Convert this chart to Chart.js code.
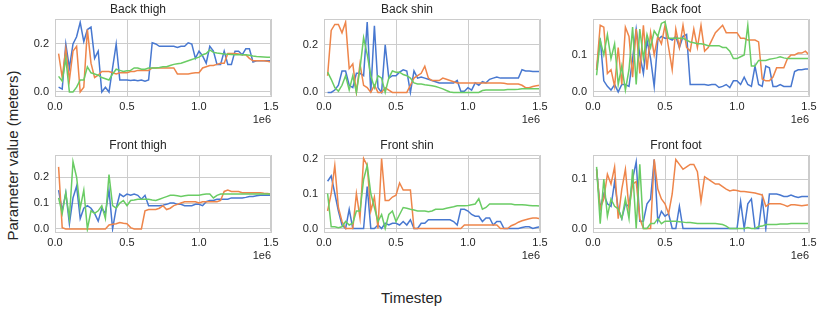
<!DOCTYPE html>
<html>
<head>
<meta charset="utf-8">
<script src="https://cdn.jsdelivr.net/npm/chart.js@4.4.1/dist/chart.umd.min.js"></script>
<style>
  body { margin: 0; background: #fff; }
  #fig { position: relative; width: 823px; height: 310px; overflow: hidden;
         font-family: "Liberation Sans", Arial, sans-serif; color: #262626; }
  #fig canvas { position: absolute; }
  .lbl { position: absolute; font-size: 15px; white-space: nowrap; }
</style>
</head>
<body>
<div id="fig">
  <div class="lbl" id="ylab">Parameter value (meters)</div>
  <div class="lbl" id="xlab">Timestep</div>
</div>
<script>
var timesteps = [25000, 50000, 75000, 100000, 125000, 150000, 175000, 200000, 225000, 250000,
  275000, 300000, 325000, 350000, 375000, 400000, 425000, 450000, 475000, 500000,
  525000, 550000, 575000, 600000, 625000, 650000, 675000, 700000, 725000, 750000,
  775000, 800000, 825000, 850000, 875000, 900000, 925000, 950000, 975000, 1000000,
  1025000, 1050000, 1075000, 1100000, 1125000, 1150000, 1175000, 1200000, 1225000, 1250000,
  1275000, 1300000, 1325000, 1350000, 1375000, 1400000, 1425000, 1450000, 1475000, 1500000];

var panelTitles = ['Back thigh', 'Back shin', 'Back foot', 'Front thigh', 'Front shin', 'Front foot'];
var xTicks = [0, 500000, 1000000, 1500000];
var yTicks = [[0, 0.2], [0, 0.2], [0, 0.1], [0, 0.1, 0.2], [0, 0.1, 0.2], [0, 0.1]];
var yMins = [-0.0167, -0.015, -0.011, -0.012, -0.01, -0.007];
var yMaxs = [0.304, 0.308, 0.197, 0.286, 0.21, 0.149];

// back thigh
var backThighBlue = [0.02, 0.012, 0.2, 0.1, 0.2, 0.23, 0.29, 0.21, 0.26, 0.27,
  0.14, 0.17, 0.0, 0.02, 0.0, 0.1, 0.2, 0.05, 0.05, 0.05,
  0.048, 0.05, 0.047, 0.05, 0.045, 0.05, 0.205, 0.2, 0.19, 0.19,
  0.19, 0.19, 0.19, 0.185, 0.19, 0.19, 0.205, 0.2, 0.14, 0.17,
  0.15, 0.12, 0.19, 0.17, 0.115, 0.115, 0.17, 0.115, 0.115, 0.17,
  0.17, 0.155, 0.18, 0.18, 0.125, 0.13, 0.13, 0.13, 0.13, 0.13];
var backThighOrange = [0.16, 0.06, 0.18, 0.05, 0.17, 0.19, 0.0, 0.02, 0.26, 0.12,
  0.06, 0.07, 0.085, 0.085, 0.085, 0.08, 0.075, 0.08, 0.08, 0.08,
  0.085, 0.085, 0.09, 0.09, 0.09, 0.09, 0.1, 0.1, 0.1, 0.1,
  0.1, 0.1, 0.1, 0.075, 0.075, 0.075, 0.075, 0.078, 0.08, 0.08,
  0.1, 0.105, 0.11, 0.11, 0.115, 0.12, 0.12, 0.16, 0.16, 0.16,
  0.158, 0.155, 0.155, 0.14, 0.13, 0.13, 0.13, 0.13, 0.128, 0.125];
var backThighGreen = [0.065, 0.045, 0.14, 0.0, 0.0, 0.02, 0.05, 0.05, 0.105, 0.08,
  0.075, 0.07, 0.06, 0.055, 0.05, 0.075, 0.095, 0.09, 0.085, 0.088,
  0.09, 0.1, 0.1, 0.095, 0.095, 0.1, 0.1, 0.1, 0.102, 0.105,
  0.105, 0.11, 0.115, 0.118, 0.12, 0.125, 0.13, 0.135, 0.14, 0.145,
  0.155, 0.16, 0.175, 0.165, 0.162, 0.16, 0.158, 0.157, 0.156, 0.155,
  0.155, 0.155, 0.155, 0.153, 0.15, 0.148, 0.147, 0.146, 0.145, 0.145];

// back shin
var backShinBlue = [0.0, 0.0, 0.01, 0.03, 0.09, 0.09, 0.03, 0.02, 0.08, 0.08,
  0.07, 0.295, 0.0, 0.28, 0.02, 0.0, 0.2, 0.06, 0.07, 0.07,
  0.085, 0.095, 0.09, 0.0, 0.09, 0.06, 0.065, 0.06, 0.055, 0.05,
  0.045, 0.04, 0.04, 0.04, 0.04, 0.04, 0.05, 0.005, 0.005, 0.02,
  0.01, 0.04, 0.03, 0.045, 0.04, 0.055, 0.06, 0.065, 0.06, 0.06,
  0.06, 0.06, 0.06, 0.06, 0.095, 0.09, 0.09, 0.088, 0.088, 0.088];
var backShinOrange = [0.07, 0.26, 0.285, 0.285, 0.25, 0.295, 0.1, 0.12, 0.0, 0.12,
  0.03, 0.02, 0.0, 0.03, 0.0, 0.0, 0.02, 0.01, 0.0, 0.0,
  0.0, 0.0, 0.0, 0.03, 0.06, 0.07, 0.08, 0.11, 0.06, 0.05,
  0.05, 0.05, 0.06, 0.055, 0.05, 0.045, 0.04, 0.04, 0.04, 0.04,
  0.04, 0.04, 0.04, 0.04, 0.04, 0.04, 0.04, 0.04, 0.04, 0.038,
  0.035, 0.035, 0.035, 0.035, 0.03, 0.02, 0.02, 0.025, 0.028, 0.03];
var backShinGreen = [0.085, 0.055, 0.02, 0.005, 0.03, 0.07, 0.01, 0.07, 0.0, 0.1,
  0.23, 0.16, 0.07, 0.02, 0.07, 0.06, 0.0, 0.06, 0.09, 0.085,
  0.085, 0.075, 0.07, 0.06, 0.04, 0.035, 0.035, 0.032, 0.03, 0.028,
  0.025, 0.02, 0.015, 0.008, 0.002, 0.0, 0.0, 0.0, 0.0, 0.0,
  0.0, 0.0, 0.0, 0.008, 0.01, 0.01, 0.01, 0.01, 0.01, 0.01,
  0.012, 0.012, 0.012, 0.013, 0.015, 0.015, 0.015, 0.015, 0.015, 0.015];

// back foot
var backFootBlue = [0.06, 0.145, 0.03, 0.015, 0.005, 0.02, 0.0, 0.02, 0.02, 0.015,
  0.09, 0.17, 0.1, 0.05, 0.14, 0.09, 0.015, 0.14, 0.15, 0.145,
  0.145, 0.14, 0.15, 0.12, 0.15, 0.155, 0.02, 0.02, 0.02, 0.02,
  0.02, 0.018, 0.02, 0.02, 0.012, 0.015, 0.02, 0.012, 0.03, 0.03,
  0.02, 0.04, 0.02, 0.015, 0.07, 0.02, 0.015, 0.07, 0.065, 0.015,
  0.015, 0.02, 0.015, 0.015, 0.015, 0.055, 0.06, 0.06, 0.062, 0.062];
var backFootOrange = [0.06, 0.18, 0.175, 0.05, 0.06, 0.015, 0.12, 0.02, 0.175, 0.15,
  0.04, 0.17, 0.05, 0.18, 0.06, 0.16, 0.1, 0.15, 0.13, 0.18,
  0.12, 0.06, 0.17, 0.12, 0.18, 0.12, 0.11, 0.17, 0.12, 0.18,
  0.11, 0.12, 0.14, 0.16, 0.17, 0.18, 0.16, 0.16, 0.16, 0.16,
  0.145, 0.145, 0.14, 0.14, 0.14, 0.135, 0.035, 0.03, 0.03, 0.04,
  0.065, 0.065, 0.065, 0.09, 0.1, 0.1, 0.105, 0.105, 0.11, 0.1];
var backFootGreen = [0.045, 0.14, 0.1, 0.155, 0.09, 0.13, 0.02, 0.07, 0.005, 0.06,
  0.175, 0.02, 0.17, 0.09, 0.155, 0.12, 0.165, 0.15, 0.185, 0.19,
  0.145, 0.145, 0.145, 0.145, 0.145, 0.14, 0.135, 0.133, 0.13, 0.13,
  0.128, 0.125, 0.125, 0.125, 0.125, 0.12, 0.12, 0.11, 0.09, 0.09,
  0.095, 0.1, 0.18, 0.07, 0.07, 0.085, 0.085, 0.085, 0.088, 0.09,
  0.092, 0.095, 0.092, 0.09, 0.09, 0.09, 0.09, 0.09, 0.09, 0.09];

// front thigh
var frontThighBlue = [0.15, 0.07, 0.14, 0.02, 0.12, 0.165, 0.04, 0.08, 0.09, 0.08,
  0.06, 0.03, 0.08, 0.06, 0.15, 0.0, 0.08, 0.135, 0.125, 0.135,
  0.13, 0.135, 0.13, 0.115, 0.13, 0.09, 0.09, 0.09, 0.09, 0.092,
  0.095, 0.1, 0.1, 0.095, 0.095, 0.09, 0.09, 0.09, 0.095, 0.095,
  0.09, 0.105, 0.11, 0.11, 0.115, 0.115, 0.115, 0.115, 0.12, 0.12,
  0.12, 0.12, 0.122, 0.125, 0.125, 0.128, 0.13, 0.13, 0.13, 0.13];
var frontThighOrange = [0.24, 0.005, 0.0, 0.0, 0.0, 0.0, 0.0, 0.0, 0.0, 0.0,
  0.0, 0.0, 0.0, 0.0, 0.015, 0.018, 0.02, 0.025, 0.022, 0.02,
  0.005, 0.0, 0.0, 0.0, 0.07, 0.075, 0.075, 0.075, 0.08, 0.09,
  0.075, 0.08, 0.09, 0.095, 0.1, 0.105, 0.105, 0.105, 0.105, 0.1,
  0.105, 0.105, 0.105, 0.105, 0.105, 0.11, 0.145, 0.15, 0.145, 0.145,
  0.145, 0.14, 0.14, 0.14, 0.14, 0.14, 0.14, 0.138, 0.137, 0.135];
var frontThighGreen = [0.12, 0.06, 0.14, 0.04, 0.26, 0.2, 0.08, 0.15, 0.0, 0.07,
  0.06, 0.07, 0.09, 0.04, 0.21, 0.09, 0.08, 0.1, 0.11, 0.09,
  0.11, 0.112, 0.115, 0.115, 0.115, 0.115, 0.112, 0.11, 0.115, 0.12,
  0.125, 0.13, 0.13, 0.128, 0.125, 0.128, 0.13, 0.13, 0.13, 0.13,
  0.133, 0.135, 0.135, 0.12, 0.13, 0.135, 0.135, 0.135, 0.135, 0.135,
  0.135, 0.135, 0.135, 0.135, 0.135, 0.135, 0.135, 0.135, 0.135, 0.135];

// front shin
var frontShinBlue = [0.135, 0.15, 0.1, 0.05, 0.01, 0.0, 0.055, 0.0, 0.0, 0.0,
  0.0, 0.12, 0.0, 0.0, 0.01, 0.0, 0.015, 0.01, 0.015, 0.015,
  0.01, 0.02, 0.01, 0.025, 0.0, 0.0, 0.015, 0.015, 0.025, 0.025,
  0.025, 0.025, 0.025, 0.025, 0.025, 0.02, 0.01, 0.055, 0.055, 0.05,
  0.04, 0.035, 0.035, 0.02, 0.03, 0.03, 0.01, 0.02, 0.02, 0.0,
  0.0, 0.0, 0.0, 0.0, 0.003, 0.005, 0.005, 0.0, 0.003, 0.005];
var frontShinOrange = [0.05, 0.1, 0.18, 0.06, 0.02, 0.0, 0.0, 0.0, 0.1, 0.03,
  0.2, 0.18, 0.05, 0.09, 0.0, 0.2, 0.08, 0.08, 0.09, 0.095,
  0.13, 0.11, 0.11, 0.11, 0.0, 0.0, 0.0, 0.0, 0.0, 0.0,
  0.0, 0.0, 0.0, 0.0, 0.0, 0.0, 0.0, 0.0, 0.01, 0.01,
  0.01, 0.01, 0.01, 0.01, 0.01, 0.01, 0.01, 0.01, 0.0, 0.0,
  0.0, 0.008, 0.012, 0.018, 0.022, 0.025, 0.028, 0.03, 0.03, 0.028];
var frontShinGreen = [0.1, 0.005, 0.005, 0.002, 0.005, 0.02, 0.01, 0.015, 0.05, 0.05,
  0.14, 0.18, 0.1, 0.06, 0.02, 0.04, 0.0, 0.04, 0.05, 0.02,
  0.04, 0.06, 0.058, 0.055, 0.053, 0.05, 0.05, 0.05, 0.048, 0.05,
  0.055, 0.055, 0.055, 0.058, 0.06, 0.062, 0.065, 0.065, 0.065, 0.066,
  0.068, 0.07, 0.085, 0.055, 0.06, 0.07, 0.07, 0.07, 0.07, 0.07,
  0.07, 0.07, 0.068, 0.068, 0.068, 0.067, 0.066, 0.065, 0.065, 0.064];

// front foot
var frontFootBlue = [0.12, 0.04, 0.07, 0.05, 0.045, 0.095, 0.04, 0.02, 0.05, 0.045,
  0.1, 0.135, 0.015, 0.015, 0.05, 0.06, 0.14, 0.015, 0.035, 0.025,
  0.03, 0.0, 0.0, 0.045, 0.0, 0.0, 0.0, 0.0, 0.0, 0.0,
  0.0, 0.0, 0.0, 0.0, 0.0, 0.0, 0.0, 0.0, 0.0, 0.0,
  0.055, 0.0, 0.05, 0.06, 0.0, 0.0, 0.06, 0.0, 0.07, 0.07,
  0.07, 0.068, 0.065, 0.065, 0.068, 0.065, 0.063, 0.065, 0.065, 0.065];
var frontFootOrange = [0.12, 0.04, 0.06, 0.11, 0.09, 0.125, 0.02, 0.08, 0.12, 0.04,
  0.09, 0.095, 0.02, 0.0, 0.0, 0.0, 0.14, 0.08, 0.06, 0.05,
  0.03, 0.07, 0.14, 0.13, 0.12, 0.125, 0.13, 0.13, 0.115, 0.055,
  0.105, 0.1, 0.095, 0.09, 0.09, 0.085, 0.08, 0.076, 0.078, 0.077,
  0.075, 0.075, 0.074, 0.073, 0.072, 0.07, 0.068, 0.045, 0.05, 0.05,
  0.05, 0.05, 0.048, 0.045, 0.048, 0.048, 0.047, 0.046, 0.047, 0.048];
var frontFootGreen = [0.125, 0.01, 0.1, 0.025, 0.06, 0.045, 0.04, 0.02, 0.06, 0.02,
  0.12, 0.0, 0.13, 0.0, 0.0, 0.01, 0.01, 0.02, 0.01, 0.015,
  0.015, 0.015, 0.015, 0.014, 0.013, 0.012, 0.012, 0.011, 0.01, 0.01,
  0.01, 0.01, 0.01, 0.01, 0.009, 0.008, 0.005, 0.0, 0.0, 0.0,
  0.0, 0.0, 0.002, 0.0, 0.0, 0.004, 0.005, 0.008, 0.008, 0.008,
  0.008, 0.009, 0.009, 0.009, 0.01, 0.01, 0.01, 0.01, 0.01, 0.01];

var panelSeries = [
  [backThighBlue, backThighOrange, backThighGreen],
  [backShinBlue, backShinOrange, backShinGreen],
  [backFootBlue, backFootOrange, backFootGreen],
  [frontThighBlue, frontThighOrange, frontThighGreen],
  [frontShinBlue, frontShinOrange, frontShinGreen],
  [frontFootBlue, frontFootOrange, frontFootGreen]
];

// seaborn "muted" colours
var colors = ['#4878d0', '#ee854a', '#6acc64'];
var FONT = '"Liberation Sans", Arial, sans-serif';
var INK = '#262626';
var GRID = '#cccccc';

// plot area geometry (pixels)
var colLeft = [55, 324, 593];
var rowTop = [19, 155];
var plotW = 216, plotH = 77;
var yAxisW = 50, titleH = 19, xAxisH = 31, padRight = 14;

// top and right spines
var frameBox = {
  id: 'frameBox',
  afterDraw: function(chart) {
    var a = chart.chartArea, c = chart.ctx;
    c.save();
    c.strokeStyle = GRID;
    c.lineWidth = 1;
    c.beginPath();
    c.moveTo(Math.round(a.left) + 0.5, Math.round(a.top) + 0.5);
    c.lineTo(Math.round(a.right) - 0.5, Math.round(a.top) + 0.5);
    c.lineTo(Math.round(a.right) - 0.5, Math.round(a.bottom) - 0.5);
    c.stroke();
    c.restore();
  }
};

function tickSetter(values) {
  return function(scale) {
    scale.ticks = values.map(function(v) { return {value: v}; });
  };
}

var fig = document.getElementById('fig');

panelTitles.forEach(function(title, i) {
  var col = i % 3, row = Math.floor(i / 3);
  var cv = document.createElement('canvas');
  var w = yAxisW + plotW + padRight, h = titleH + plotH + xAxisH;
  cv.width = w; cv.height = h;
  cv.style.width = w + 'px'; cv.style.height = h + 'px';
  cv.style.left = (colLeft[col] - yAxisW) + 'px';
  cv.style.top = (rowTop[row] - titleH) + 'px';
  fig.appendChild(cv);

  var datasets = panelSeries[i].map(function(vals, k) {
    return {
      data: vals.map(function(v, j) { return {x: timesteps[j], y: v}; }),
      borderColor: colors[k],
      borderWidth: 1.5,
      pointRadius: 0,
      fill: false,
      tension: 0,
      order: 3 - k
    };
  });

  new Chart(cv, {
    type: 'line',
    data: {datasets: datasets},
    plugins: [frameBox],
    options: {
      responsive: false,
      animation: false,
      devicePixelRatio: 1,
      layout: {padding: {left: 0, right: padRight, top: 0, bottom: 0}},
      plugins: {
        legend: {display: false},
        tooltip: {enabled: false},
        title: {
          display: true, text: title, color: INK,
          font: {family: FONT, size: 12, weight: 'normal', lineHeight: 14 / 12},
          padding: {top: 3, bottom: 2}
        }
      },
      scales: {
        x: {
          type: 'linear', min: 0, max: 1500000,
          afterBuildTicks: tickSetter(xTicks),
          afterFit: function(s) { s.height = xAxisH; },
          grid: {color: GRID, lineWidth: 1, drawTicks: false},
          border: {color: GRID, width: 1},
          ticks: {
            color: INK, padding: 4, maxRotation: 0,
            font: {family: FONT, size: 11},
            callback: function(v) { return (v / 1e6).toFixed(1); }
          },
          title: {display: true, text: '1e6', align: 'end', color: INK,
                  font: {family: FONT, size: 11}, padding: 0}
        },
        y: {
          min: yMins[i], max: yMaxs[i],
          afterBuildTicks: tickSetter(yTicks[i]),
          afterFit: function(s) { s.width = yAxisW; },
          grid: {color: GRID, lineWidth: 1, drawTicks: false},
          border: {color: GRID, width: 1},
          ticks: {
            color: INK, padding: 6,
            font: {family: FONT, size: 11},
            callback: function(v) { return v.toFixed(1); }
          }
        }
      }
    }
  });
});

// figure-level axis labels
var ylab = document.getElementById('ylab');
ylab.style.left = (12 - ylab.offsetWidth / 2) + 'px';
ylab.style.top = (155 - ylab.offsetHeight / 2) + 'px';
ylab.style.transform = 'rotate(-90deg)';
var xlab = document.getElementById('xlab');
xlab.style.left = (411.5 - xlab.offsetWidth / 2) + 'px';
xlab.style.top = (297 - xlab.offsetHeight / 2) + 'px';
</script>
</body>
</html>
